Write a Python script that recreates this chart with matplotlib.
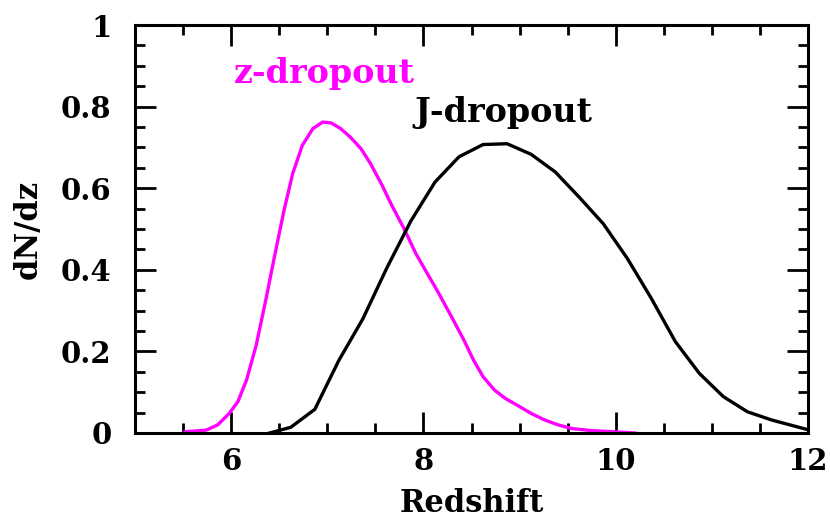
import matplotlib
matplotlib.use('Agg')
import matplotlib.pyplot as plt
from matplotlib.ticker import MultipleLocator

# z-dropout redshift distribution (magenta)
z_drop_x = [5.52, 5.74, 5.86, 5.98, 6.07, 6.16, 6.26, 6.36, 6.45, 6.55, 6.64, 6.74,
            6.85, 6.95, 7.04, 7.14, 7.24, 7.35, 7.45, 7.57, 7.67, 7.80, 7.92, 8.03,
            8.16, 8.31, 8.42, 8.52, 8.62, 8.74, 8.85, 8.99, 9.12, 9.26, 9.40, 9.54,
            9.74, 9.98, 10.2]
z_drop_y = [0.003, 0.007, 0.02, 0.048, 0.077, 0.13, 0.215, 0.326, 0.432, 0.546, 0.636, 0.705,
            0.746, 0.762, 0.76, 0.746, 0.725, 0.697, 0.66, 0.607, 0.558, 0.50, 0.44, 0.395,
            0.342, 0.277, 0.228, 0.179, 0.138, 0.105, 0.085, 0.066, 0.048, 0.032, 0.02, 0.011,
            0.006, 0.003, 0.0]

# J-dropout redshift distribution (black)
j_drop_x = [6.40, 6.62, 6.87, 7.12, 7.37, 7.62, 7.87, 8.12, 8.37, 8.62, 8.87, 9.12,
            9.37, 9.62, 9.87, 10.12, 10.37, 10.62, 10.87, 11.12, 11.37, 11.62, 12.0]
j_drop_y = [0.0, 0.014, 0.058, 0.178, 0.28, 0.405, 0.52, 0.615, 0.677, 0.707, 0.709, 0.683,
            0.64, 0.578, 0.513, 0.428, 0.33, 0.224, 0.146, 0.089, 0.052, 0.032, 0.008]

plt.rcParams['font.family'] = ['DejaVu Serif']
plt.rcParams['font.weight'] = 'bold'

fig = plt.figure(figsize=(8.3, 5.32), dpi=100)
ax = fig.add_axes([0.1627, 0.1861, 0.8108, 0.7669])

ax.plot(z_drop_x, z_drop_y, color='#ff00ff', lw=2.4)
ax.plot(j_drop_x, j_drop_y, color='black', lw=2.4)

ax.text(6.03, 0.88, 'z-dropout', color='#ff00ff', fontsize=24, fontweight='bold',
        va='center', ha='left')
ax.text(7.91, 0.786, 'J-dropout', color='black', fontsize=24, fontweight='bold',
        va='center', ha='left')

ax.set_xlim(5, 12)
ax.set_ylim(0, 1)
ax.xaxis.set_major_locator(MultipleLocator(2))
ax.xaxis.set_minor_locator(MultipleLocator(0.5))
ax.yaxis.set_major_locator(MultipleLocator(0.2))
ax.yaxis.set_minor_locator(MultipleLocator(0.05))
ax.set_xticks([6, 8, 10, 12])
ax.set_xticklabels(['6', '8', '10', '12'])
ax.set_yticks([0, 0.2, 0.4, 0.6, 0.8, 1.0])
ax.set_yticklabels(['0', '0.2', '0.4', '0.6', '0.8', '1'])

ax.tick_params(which='both', direction='in', top=True, right=True, width=2.0,
               labelsize=21)
ax.tick_params(axis='y', pad=17)
ax.tick_params(axis='x', pad=10)
ax.tick_params(which='major', length=15)
ax.tick_params(which='minor', length=7.5)
for lab in ax.get_xticklabels() + ax.get_yticklabels():
    lab.set_fontweight('bold')
for sp in ax.spines.values():
    sp.set_linewidth(2.2)

ax.set_xlabel('Redshift', fontsize=22, fontweight='bold', labelpad=9)
ax.set_ylabel('dN/dz', fontsize=22, fontweight='bold', labelpad=12)

fig.savefig('out.png', dpi=100)
